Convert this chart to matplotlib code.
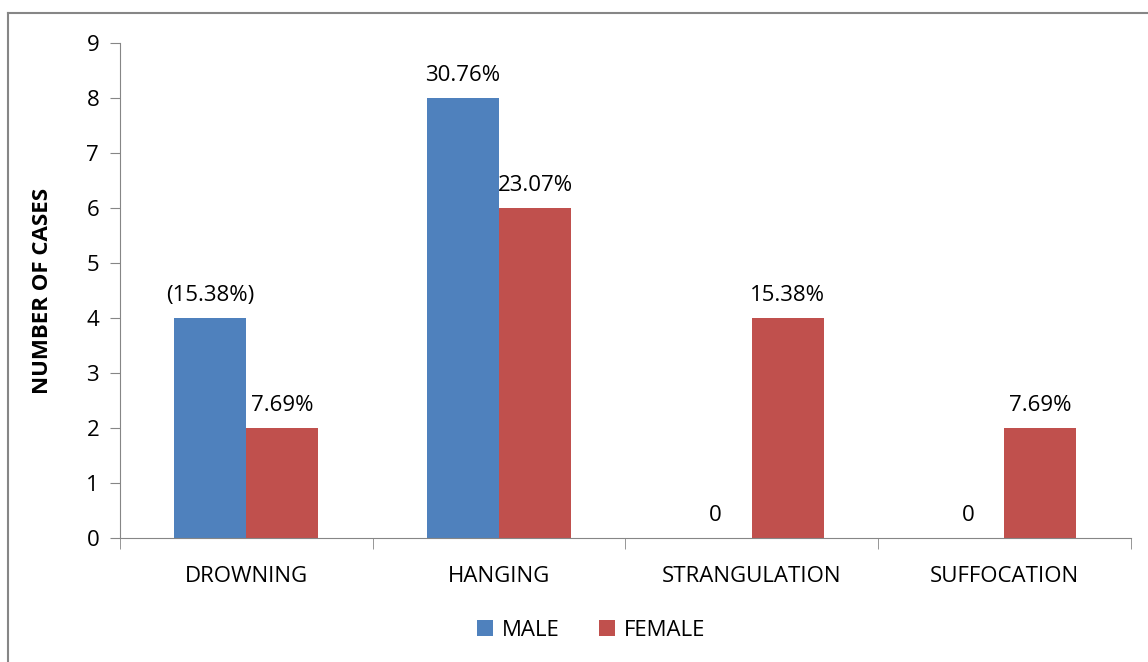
import matplotlib.pyplot as plt
import numpy as np

categories = ['DROWNING', 'HANGING', 'STRANGULATION', 'SUFFOCATION']
male = [4, 8, 0, 0]
female = [2, 6, 4, 2]
male_labels = ['(15.38%)', '30.76%', '0', '0']
female_labels = ['7.69%', '23.07%', '15.38%', '7.69%']

plt.rcParams['font.family'] = ['Open Sans', 'DejaVu Sans']

fig = plt.figure(figsize=(11.48, 6.62), dpi=100)
ax = fig.add_axes([0.1045, 0.1873, 0.8805, 0.7477])

x = np.arange(len(categories))
w = 0.285
grey = '#868686'
fs = 16

ax.bar(x - w / 2, male, w, color='#4f81bd', label='MALE')
ax.bar(x + w / 2, female, w, color='#c0504d', label='FEMALE')

for i in range(len(categories)):
    ax.text(x[i] - w / 2, male[i] + 0.22, male_labels[i], ha='center', va='bottom', fontsize=fs)
    ax.text(x[i] + w / 2, female[i] + 0.22, female_labels[i], ha='center', va='bottom', fontsize=fs)

ax.set_xlim(-0.5, 3.5)
ax.set_ylim(0, 9)
ax.set_yticks(range(10))
ax.set_xticks(x)
ax.set_xticklabels(categories, fontsize=fs)
ax.set_xticks(np.arange(-0.5, 4, 1), minor=True)
ax.tick_params(axis='x', which='major', length=0, pad=20)
ax.tick_params(axis='x', which='minor', length=8, color=grey, direction='out')
ax.tick_params(axis='y', length=7, color=grey, labelsize=fs, pad=8)

for s in ['top', 'right']:
    ax.spines[s].set_visible(False)
ax.spines['left'].set_color(grey)
ax.spines['bottom'].set_color(grey)

ax.set_ylabel('NUMBER OF CASES', fontsize=fs, fontweight='bold', labelpad=24)

fig.legend(loc='center', bbox_to_anchor=(0.515, 0.048), ncol=2, frameon=False,
           fontsize=fs, handlelength=0.7, handleheight=0.7, handletextpad=0.4, columnspacing=1.8)

# outer chart border (left and top visible)
fig.add_artist(plt.Line2D([8 / 1148, 8 / 1148], [0, 1 - 13 / 662], color=grey, lw=1.5, transform=fig.transFigure))
fig.add_artist(plt.Line2D([8 / 1148, 1], [1 - 13 / 662, 1 - 13 / 662], color=grey, lw=1.5, transform=fig.transFigure))

fig.savefig('out.png', dpi=100)
